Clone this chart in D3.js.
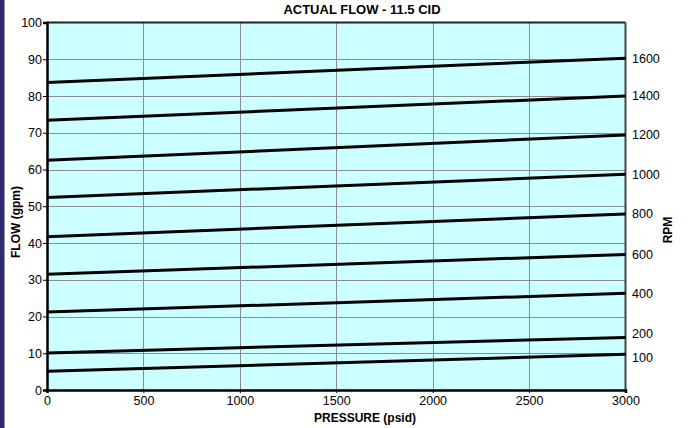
<!DOCTYPE html>
<html>
<head>
<meta charset="utf-8">
<script src="https://cdn.jsdelivr.net/npm/d3@7"></script>
<style>
  html, body { margin: 0; padding: 0; background: #ffffff; }
  svg { display: block; }
  text { font-family: Arial, "Liberation Sans", sans-serif; }
</style>
</head>
<body>
<svg id="chart" width="691" height="428"></svg>
<script>
// Pump flow vs. pressure, one line per shaft speed
const rpmLabels = ["1600", "1400", "1200", "1000", "800", "600", "400", "200", "100"];
const pressurePoints = [0, 3000];
const flowAt0 = [83.7, 73.4, 62.5, 52.4, 41.7, 31.5, 21.2, 10.1, 5.1];
const flowAt3000 = [90.3, 80.0, 69.4, 58.7, 47.9, 36.9, 26.3, 14.3, 9.7];
const xTicks = [0, 500, 1000, 1500, 2000, 2500, 3000];
const yTicks = [0, 10, 20, 30, 40, 50, 60, 70, 80, 90, 100];

const title = "ACTUAL FLOW - 11.5 CID";
const xTitle = "PRESSURE (psid)";
const yTitle = "FLOW (gpm)";
const y2Title = "RPM";

const svg = d3.select("#chart");
const W = 691, H = 428;
const plot = { left: 47, right: 625.5, top: 22.5, bottom: 390 };

const x = d3.scaleLinear().domain([0, 3000]).range([plot.left, plot.right]);
const y = d3.scaleLinear().domain([0, 100]).range([plot.bottom, plot.top]);

// Dark side band at the left edge
svg.append("rect").attr("x", 0).attr("y", 0).attr("width", 4.5).attr("height", H)
  .attr("fill", "#2e2b6e");

// Plot background
svg.append("rect")
  .attr("x", plot.left).attr("y", plot.top)
  .attr("width", plot.right - plot.left).attr("height", plot.bottom - plot.top)
  .attr("fill", "#ccffff");

// Grid
const grid = svg.append("g").attr("stroke", "#8c8c8c").attr("stroke-width", 1);
grid.selectAll("line.h").data(yTicks.slice(1, -1)).join("line")
  .attr("x1", plot.left).attr("x2", plot.right)
  .attr("y1", d => Math.round(y(d)) + 0.5).attr("y2", d => Math.round(y(d)) + 0.5);
grid.selectAll("line.v").data(xTicks.slice(1, -1)).join("line")
  .attr("y1", plot.top).attr("y2", plot.bottom)
  .attr("x1", d => Math.round(x(d)) + 0.5).attr("x2", d => Math.round(x(d)) + 0.5);

// Plot frame: top and right edges
svg.append("line").attr("x1", plot.left).attr("x2", plot.right)
  .attr("y1", plot.top).attr("y2", plot.top)
  .attr("stroke", "#222").attr("stroke-width", 2);
svg.append("line").attr("x1", plot.right).attr("x2", plot.right)
  .attr("y1", plot.top).attr("y2", plot.bottom)
  .attr("stroke", "#444").attr("stroke-width", 2);

// Series lines
const series = rpmLabels.map((rpm, i) => ({
  rpm,
  points: [[pressurePoints[0], flowAt0[i]], [pressurePoints[1], flowAt3000[i]]]
}));
const line = d3.line().x(d => x(d[0])).y(d => y(d[1]));
svg.append("g").selectAll("path").data(series).join("path")
  .attr("d", d => line(d.points))
  .attr("fill", "none").attr("stroke", "#000").attr("stroke-width", 3);

// Left axis
const yAxis = svg.append("g").attr("transform", `translate(${plot.left},0)`)
  .call(d3.axisLeft(y).tickValues(yTicks).tickSize(4).tickPadding(1).tickFormat(d3.format("d")));
yAxis.select(".domain").attr("stroke", "#000").attr("stroke-width", 2.5);
yAxis.selectAll(".tick line").attr("stroke", "#000");
yAxis.selectAll("text").attr("font-size", "12.5px").attr("fill", "#000")
  .attr("font-family", "Arial, 'Liberation Sans', sans-serif");

// Bottom axis
const xAxis = svg.append("g").attr("transform", `translate(0,${plot.bottom})`)
  .call(d3.axisBottom(x).tickValues(xTicks).tickSize(3).tickPadding(3).tickFormat(d3.format("d")));
xAxis.select(".domain").attr("stroke", "#000").attr("stroke-width", 2.5);
xAxis.selectAll(".tick line").attr("stroke", "#000");
xAxis.selectAll("text").attr("font-size", "12.5px").attr("fill", "#000")
  .attr("font-family", "Arial, 'Liberation Sans', sans-serif");

// RPM labels beside each line's right end, nudged apart where crowded
const labelPos = series.map(s => ({ rpm: s.rpm, yy: y(s.points[1][1]) }))
  .sort((a, b) => a.yy - b.yy);
const minGap = 24;
for (let k = 0; k < 5; k++) {
  for (let i = 1; i < labelPos.length; i++) {
    const gap = labelPos[i].yy - labelPos[i - 1].yy;
    if (gap < minGap) {
      const push = (minGap - gap) / 2;
      labelPos[i - 1].yy -= push;
      labelPos[i].yy += push;
    }
  }
}
svg.append("g").selectAll("text").data(labelPos).join("text")
  .attr("x", plot.right + 6.5).attr("y", d => d.yy)
  .attr("dy", "0.35em").attr("font-size", "12.5px").attr("fill", "#000")
  .text(d => d.rpm);

// Titles
svg.append("text").attr("x", 362).attr("y", 14)
  .attr("text-anchor", "middle").attr("font-size", "13px").attr("font-weight", "bold")
  .text(title);
svg.append("text").attr("x", 365).attr("y", 422)
  .attr("text-anchor", "middle").attr("font-size", "12px").attr("font-weight", "bold")
  .text(xTitle);
svg.append("text").attr("transform", "translate(19.5,222) rotate(-90)")
  .attr("text-anchor", "middle").attr("font-size", "12px").attr("font-weight", "bold")
  .text(yTitle);
svg.append("text").attr("transform", "translate(672,230) rotate(-90)")
  .attr("text-anchor", "middle").attr("font-size", "12px").attr("font-weight", "bold")
  .text(y2Title);
</script>
</body>
</html>
